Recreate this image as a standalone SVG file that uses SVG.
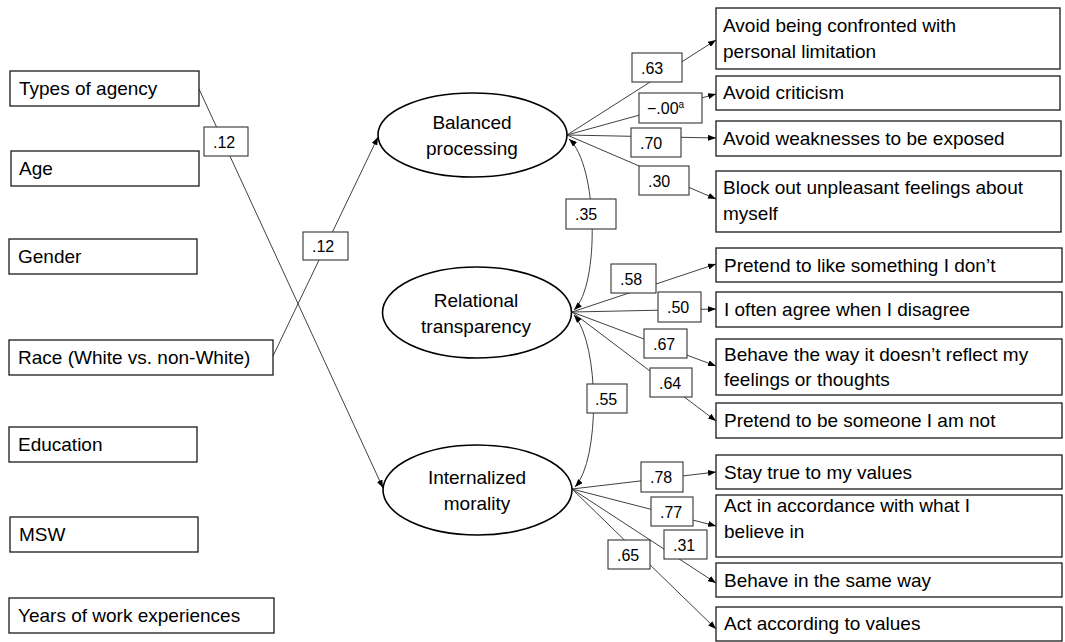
<svg xmlns="http://www.w3.org/2000/svg" width="1065" height="642" viewBox="0 0 1065 642">
<style>
.box{fill:#fff;stroke:#1a1a1a;stroke-width:1.3}
.ell{fill:#fff;stroke:#000;stroke-width:1.6}
.t{font-family:"Liberation Sans",Arial,sans-serif;font-size:19px;fill:#000}
.tc{font-family:"Liberation Sans",Arial,sans-serif;font-size:19px;fill:#000;text-anchor:middle}
.ln{fill:none;stroke:#404040;stroke-width:1}
.lb{fill:#fff;stroke:#333;stroke-width:1.1}
.lt{font-family:"Liberation Sans",Arial,sans-serif;font-size:16px;fill:#000}
</style>
<defs>
<marker id="ah" viewBox="0 0 8 6" refX="8" refY="3" markerWidth="8" markerHeight="6" markerUnits="userSpaceOnUse" orient="auto-start-reverse">
<path d="M0,0 L8,3 L0,6 z" fill="#000"/>
</marker>
</defs>
<rect width="1065" height="642" fill="#fff"/>

<g id="connectors">
<line class="ln" x1="199" y1="89" x2="383" y2="488" marker-end="url(#ah)"/>
<line class="ln" x1="273" y1="356" x2="378" y2="137" marker-end="url(#ah)"/>
<line class="ln" x1="567" y1="135" x2="716" y2="40" marker-end="url(#ah)"/>
<line class="ln" x1="567" y1="135" x2="716" y2="94" marker-end="url(#ah)"/>
<line class="ln" x1="567" y1="135" x2="716" y2="138" marker-end="url(#ah)"/>
<line class="ln" x1="567" y1="135" x2="716" y2="199" marker-end="url(#ah)"/>
<line class="ln" x1="572" y1="312" x2="716" y2="264" marker-end="url(#ah)"/>
<line class="ln" x1="572" y1="312" x2="716" y2="309" marker-end="url(#ah)"/>
<line class="ln" x1="572" y1="312" x2="716" y2="366" marker-end="url(#ah)"/>
<line class="ln" x1="572" y1="312" x2="716" y2="421" marker-end="url(#ah)"/>
<line class="ln" x1="572" y1="489" x2="716" y2="472" marker-end="url(#ah)"/>
<line class="ln" x1="572" y1="489" x2="716" y2="526" marker-end="url(#ah)"/>
<line class="ln" x1="572" y1="489" x2="716" y2="583" marker-end="url(#ah)"/>
<line class="ln" x1="572" y1="489" x2="716" y2="629" marker-end="url(#ah)"/>
<path class="ln" d="M569,139 C598,165 600,285 574,310" marker-start="url(#ah)" marker-end="url(#ah)"/>
<path class="ln" d="M574,315 C600,345 600,460 575,487" marker-start="url(#ah)" marker-end="url(#ah)"/>

<g id="labels">
<rect class="lb" x="204" y="127" width="44" height="29"/><text class="lt" x="213" y="148">.12</text>
<rect class="lb" x="303" y="232" width="45" height="28"/><text class="lt" x="312" y="252">.12</text>
<rect class="lb" x="632" y="53" width="50" height="29"/><text class="lt" x="641" y="74">.63</text>
<rect class="lb" x="639" y="93" width="63" height="30"/><text class="lt" x="647" y="114">−.00<tspan font-size="10" dy="-6">a</tspan></text>
<rect class="lb" x="631" y="128" width="50" height="29"/><text class="lt" x="640" y="149">.70</text>
<rect class="lb" x="639" y="166" width="50" height="29"/><text class="lt" x="648" y="187">.30</text>
<rect class="lb" x="566" y="199" width="50" height="30"/><text class="lt" x="575" y="220">.35</text>
<rect class="lb" x="611" y="264" width="45" height="29"/><text class="lt" x="620" y="285">.58</text>
<rect class="lb" x="658" y="292" width="43" height="30"/><text class="lt" x="667" y="313">.50</text>
<rect class="lb" x="644" y="329" width="43" height="29"/><text class="lt" x="653" y="350">.67</text>
<rect class="lb" x="650" y="368" width="42" height="29"/><text class="lt" x="659" y="389">.64</text>
<rect class="lb" x="587" y="384" width="40" height="29"/><text class="lt" x="595" y="405">.55</text>
<rect class="lb" x="641" y="462" width="42" height="30"/><text class="lt" x="650" y="483">.78</text>
<rect class="lb" x="651" y="497" width="42" height="29"/><text class="lt" x="660" y="518">.77</text>
<rect class="lb" x="664" y="530" width="43" height="29"/><text class="lt" x="673" y="551">.31</text>
<rect class="lb" x="608" y="540" width="42" height="29"/><text class="lt" x="617" y="561">.65</text>
</g>
</g>

<g id="types-of-agency"><rect class="box" x="10" y="71" width="189" height="35"/><text class="t" x="19" y="95">Types of agency</text></g>
<g id="age"><rect class="box" x="11" y="151" width="188" height="35"/><text class="t" x="19" y="175">Age</text></g>
<g id="gender"><rect class="box" x="9" y="239" width="188" height="35"/><text class="t" x="18" y="263">Gender</text></g>
<g id="race"><rect class="box" x="9" y="340" width="264" height="35"/><text class="t" x="18" y="364">Race (White vs. non-White)</text></g>
<g id="education"><rect class="box" x="9" y="427" width="188" height="35"/><text class="t" x="18" y="451">Education</text></g>
<g id="msw"><rect class="box" x="10" y="517" width="188" height="35"/><text class="t" x="19" y="541">MSW</text></g>
<g id="years"><rect class="box" x="9" y="598" width="265" height="35"/><text class="t" x="18" y="622">Years of work experiences</text></g>

<g id="balanced-processing"><ellipse class="ell" cx="472.5" cy="135" rx="94.5" ry="42"/><text class="tc" x="472" y="129">Balanced</text><text class="tc" x="472" y="155">processing</text></g>
<g id="relational-transparency"><ellipse class="ell" cx="477" cy="312.5" rx="94.5" ry="45.5"/><text class="tc" x="476" y="307">Relational</text><text class="tc" x="476" y="333">transparency</text></g>
<g id="internalized-morality"><ellipse class="ell" cx="477.5" cy="490" rx="94.5" ry="45"/><text class="tc" x="477" y="484">Internalized</text><text class="tc" x="477" y="510">morality</text></g>

<g id="bp1"><rect class="box" x="716" y="8" width="344" height="61"/><text class="t" x="723" y="32">Avoid being confronted with</text><text class="t" x="723" y="58">personal limitation</text></g>
<g id="bp2"><rect class="box" x="716" y="76" width="344" height="34"/><text class="t" x="723" y="99">Avoid criticism</text></g>
<g id="bp3"><rect class="box" x="716" y="121" width="345" height="35"/><text class="t" x="723" y="145">Avoid weaknesses to be exposed</text></g>
<g id="bp4"><rect class="box" x="716" y="171" width="345" height="61"/><text class="t" x="723" y="194">Block out unpleasant feelings about</text><text class="t" x="723" y="220">myself</text></g>
<g id="rt1"><rect class="box" x="716" y="248" width="346" height="34"/><text class="t" x="724" y="272">Pretend to like something I don’t</text></g>
<g id="rt2"><rect class="box" x="716" y="292" width="346" height="35"/><text class="t" x="724" y="316">I often agree when I disagree</text></g>
<g id="rt3"><rect class="box" x="716" y="339" width="346" height="56"/><text class="t" x="724" y="361">Behave the way it doesn’t reflect my</text><text class="t" x="724" y="386">feelings or thoughts</text></g>
<g id="rt4"><rect class="box" x="716" y="403" width="346" height="35"/><text class="t" x="724" y="427">Pretend to be someone I am not</text></g>
<g id="im1"><rect class="box" x="716" y="455" width="346" height="34"/><text class="t" x="724" y="479">Stay true to my values</text></g>
<g id="im2"><rect class="box" x="716" y="495" width="346" height="62"/><text class="t" x="724" y="512">Act in accordance with what I</text><text class="t" x="724" y="538">believe in</text></g>
<g id="im3"><rect class="box" x="716" y="563" width="346" height="34"/><text class="t" x="724" y="587">Behave in the same way</text></g>
<g id="im4"><rect class="box" x="716" y="607" width="346" height="34"/><text class="t" x="724" y="630">Act according to values</text></g>
</svg>
